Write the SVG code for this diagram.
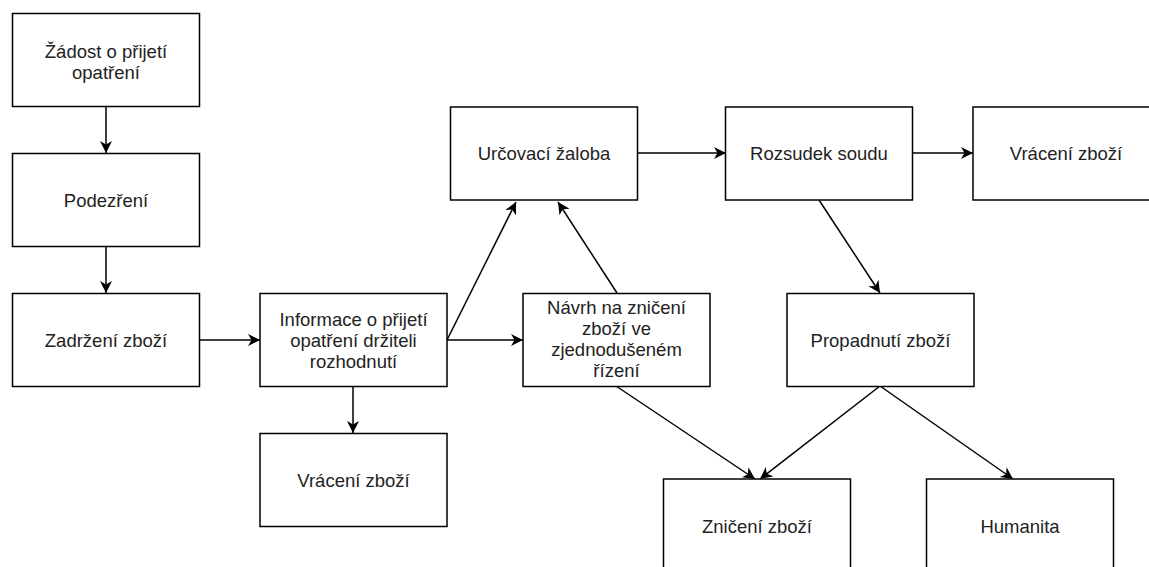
<svg xmlns="http://www.w3.org/2000/svg" width="1149" height="567" viewBox="0 0 1149 567">
<style>
.box{fill:#fff;stroke:#000;stroke-width:1.5}
.t{font-family:"Liberation Sans",Arial,sans-serif;font-size:18.5px;fill:#222;text-anchor:middle}
.c{fill:none;stroke:#000;stroke-width:1.5}
</style>
<defs>
<marker id="arr" markerUnits="userSpaceOnUse" markerWidth="14" markerHeight="14" refX="12" refY="7" orient="auto" viewBox="0 0 14 14">
<path d="M0,1 L12,7 L0,13 L3.5,7 Z" fill="#000"/>
</marker>
</defs>
<rect width="1149" height="567" fill="#fff"/>
<g id="connectors">
<line class="c" x1="106" y1="107" x2="106" y2="153" marker-end="url(#arr)"/>
<line class="c" x1="106" y1="247" x2="106" y2="293" marker-end="url(#arr)"/>
<line class="c" x1="199.5" y1="340" x2="260" y2="340" marker-end="url(#arr)"/>
<line class="c" x1="353" y1="386" x2="353" y2="433" marker-end="url(#arr)"/>
<line class="c" x1="447" y1="340" x2="516" y2="202" marker-end="url(#arr)"/>
<line class="c" x1="447" y1="340" x2="523" y2="340" marker-end="url(#arr)"/>
<line class="c" x1="617" y1="293" x2="558" y2="202" marker-end="url(#arr)"/>
<line class="c" x1="637" y1="153" x2="726" y2="153" marker-end="url(#arr)"/>
<line class="c" x1="912" y1="153" x2="973" y2="153" marker-end="url(#arr)"/>
<line class="c" x1="819" y1="200" x2="880" y2="293" marker-end="url(#arr)"/>
<line class="c" x1="616" y1="386" x2="755" y2="479" marker-end="url(#arr)"/>
<line class="c" x1="880" y1="386" x2="760" y2="479" marker-end="url(#arr)"/>
<line class="c" x1="880" y1="386" x2="1013" y2="479" marker-end="url(#arr)"/>
</g>
<g id="n1"><rect class="box" x="12.5" y="13.5" width="187" height="93"/><text class="t" x="106" y="57.5">Žádost o přijetí</text><text class="t" x="106" y="78.5">opatření</text></g>
<g id="n2"><rect class="box" x="12.5" y="153.5" width="187" height="93"/><text class="t" x="106" y="206.5">Podezření</text></g>
<g id="n3"><rect class="box" x="12.5" y="293.5" width="187" height="93"/><text class="t" x="106" y="346.5">Zadržení zboží</text></g>
<g id="n4"><rect class="box" x="260" y="293.5" width="187" height="93"/><text class="t" x="353.5" y="325.5">Informace o přijetí</text><text class="t" x="353.5" y="346.5">opatření držiteli</text><text class="t" x="353.5" y="367.5">rozhodnutí</text></g>
<g id="n5"><rect class="box" x="260" y="433.5" width="187" height="93"/><text class="t" x="353.5" y="486.5">Vrácení zboží</text></g>
<g id="n6"><rect class="box" x="450.5" y="107" width="187" height="93"/><text class="t" x="544" y="160">Určovací žaloba</text></g>
<g id="n7"><rect class="box" x="523" y="293.5" width="187" height="93"/><text class="t" x="616.5" y="314">Návrh na zničení</text><text class="t" x="616.5" y="335">zboží ve</text><text class="t" x="616.5" y="356">zjednodušeném</text><text class="t" x="616.5" y="377">řízení</text></g>
<g id="n8"><rect class="box" x="725.5" y="107" width="187" height="93"/><text class="t" x="819" y="160">Rozsudek soudu</text></g>
<g id="n9"><rect class="box" x="973" y="107" width="187" height="93"/><text class="t" x="1066" y="160">Vrácení zboží</text></g>
<g id="n10"><rect class="box" x="787" y="293.5" width="187" height="93"/><text class="t" x="880.5" y="346.5">Propadnutí zboží</text></g>
<g id="n11"><rect class="box" x="663.5" y="479" width="187" height="93"/><text class="t" x="757" y="533">Zničení zboží</text></g>
<g id="n12"><rect class="box" x="926.5" y="479" width="187" height="93"/><text class="t" x="1020" y="533">Humanita</text></g>
</svg>
